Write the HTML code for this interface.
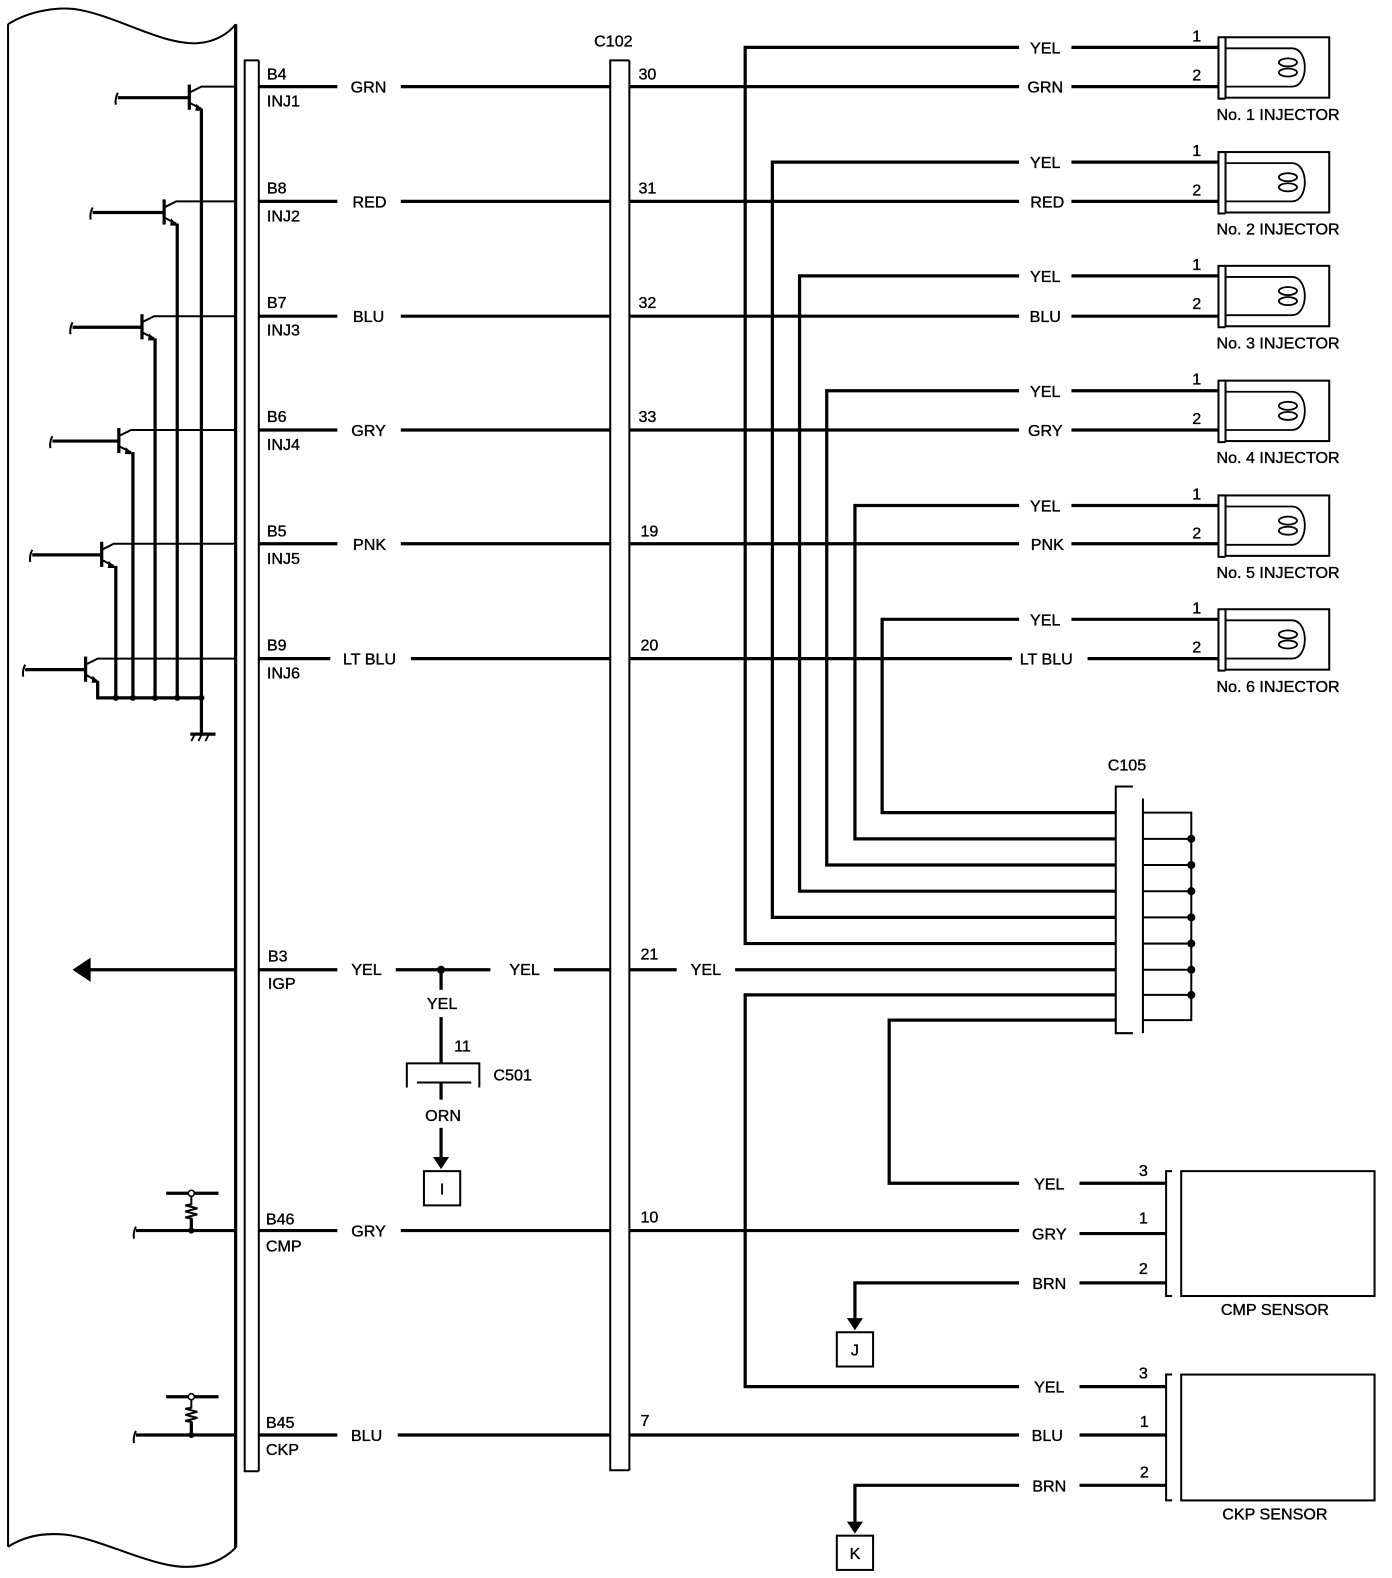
<!DOCTYPE html>
<html><head><meta charset="utf-8"><style>
html,body{margin:0;padding:0;background:#fff;}
svg{display:block;}
text{font-family:"Liberation Sans",Arial,sans-serif;font-size:16px;fill:#000;stroke:#000;stroke-width:0.35;}
.w{stroke:#000;stroke-width:3.2;fill:none;}
.t{stroke:#000;stroke-width:2;fill:none;}
.h{stroke:#000;stroke-width:1.8;fill:none;}
.c{text-anchor:middle;}
</style></head><body>
<svg width="1392" height="1578" viewBox="0 0 1392 1578" xmlns="http://www.w3.org/2000/svg">
<g transform="scale(1.007)">
<path class="t" d="M8,24 C30,10 60,6 80,10 C120,18 160,44 195,43 C215,42 228,32 234,24"/>
<line class="t" x1="8" y1="24" x2="8" y2="1536"/>
<line class="w" x1="234" y1="24" x2="234" y2="1537"/>
<path class="t" d="M8,1536 C25,1525 45,1522 65,1524 C100,1528 150,1556 185,1556 C210,1556 225,1546 234,1537"/>

<path class="t" d="M257,60 H243 V1461 H257"/>
<line class="t" x1="257" y1="60" x2="257" y2="1461"/>
<path class="t" d="M625,60 H606 V1460 H625"/>
<line class="t" x1="625" y1="60" x2="625" y2="1460"/>
<text x="590" y="46">C102</text>

<g>
<line class="w" x1="188" y1="84" x2="188" y2="109"/><line class="w" x1="117" y1="97" x2="188" y2="97"/><path class="t" d="M117,92 q-3,6 -2,12"/>
<path class="t" d="M188,92 L200,86 H234"/><path class="t" d="M188,102 L200,108"/><path d="M195,103 L202,110 L194,110Z"/>
<line class="w" x1="200" y1="108" x2="200" y2="693"/>
<line class="w" x1="163" y1="198" x2="163" y2="223"/><line class="w" x1="92" y1="211" x2="163" y2="211"/><path class="t" d="M92,206 q-3,6 -2,12"/>
<path class="t" d="M163,206 L175,200 H234"/><path class="t" d="M163,216 L175,222"/><path d="M170,217 L177,224 L169,224Z"/>
<line class="w" x1="176" y1="222" x2="176" y2="693"/>
<line class="w" x1="141" y1="312" x2="141" y2="337"/><line class="w" x1="72" y1="325" x2="141" y2="325"/><path class="t" d="M72,320 q-3,6 -2,12"/>
<path class="t" d="M141,320 L153,314 H234"/><path class="t" d="M141,330 L153,336"/><path d="M148,331 L155,338 L147,338Z"/>
<line class="w" x1="154" y1="336" x2="154" y2="693"/>
<line class="w" x1="118" y1="425" x2="118" y2="450"/><line class="w" x1="52" y1="438" x2="118" y2="438"/><path class="t" d="M52,433 q-3,6 -2,12"/>
<path class="t" d="M118,433 L130,427 H234"/><path class="t" d="M118,443 L130,449"/><path d="M125,444 L132,451 L124,451Z"/>
<line class="w" x1="132" y1="449" x2="132" y2="693"/>
<line class="w" x1="101" y1="538" x2="101" y2="563"/><line class="w" x1="32" y1="551" x2="101" y2="551"/><path class="t" d="M32,546 q-3,6 -2,12"/>
<path class="t" d="M101,546 L113,540 H234"/><path class="t" d="M101,556 L113,562"/><path d="M108,557 L115,564 L107,564Z"/>
<line class="w" x1="115" y1="562" x2="115" y2="693"/>
<line class="w" x1="85" y1="652" x2="85" y2="677"/><line class="w" x1="25" y1="665" x2="85" y2="665"/><path class="t" d="M25,660 q-3,6 -2,12"/>
<path class="t" d="M85,660 L97,654 H234"/><path class="t" d="M85,670 L96,676"/><path d="M92,671 L99,678 L91,678Z"/>
<path class="w" d="M97,676 V693 H202"/>
<circle cx="115" cy="693" r="3"/><circle cx="132" cy="693" r="3"/><circle cx="154" cy="693" r="3"/><circle cx="176" cy="693" r="3"/><circle cx="200" cy="693" r="3"/>
<line class="w" x1="200" y1="693" x2="200" y2="728"/>
<line class="w" x1="189" y1="729" x2="214" y2="729"/>
<path class="h" d="M193,730 l-3,6 M200,730 l-3,6 M207,730 l-3,6"/>
</g>

<g>
<text x="265" y="79">B4</text><text x="265" y="106">INJ1</text>
<line class="w" x1="257" y1="86" x2="335" y2="86"/><text class="c" x="366" y="92">GRN</text><line class="w" x1="398" y1="86" x2="606" y2="86"/>
<text x="265" y="192">B8</text><text x="265" y="220">INJ2</text>
<line class="w" x1="257" y1="200" x2="335" y2="200"/><text class="c" x="367" y="206">RED</text><line class="w" x1="398" y1="200" x2="606" y2="200"/>
<text x="265" y="306">B7</text><text x="265" y="333">INJ3</text>
<line class="w" x1="257" y1="314" x2="335" y2="314"/><text class="c" x="366" y="320">BLU</text><line class="w" x1="398" y1="314" x2="606" y2="314"/>
<text x="265" y="419">B6</text><text x="265" y="447">INJ4</text>
<line class="w" x1="257" y1="427" x2="335" y2="427"/><text class="c" x="366" y="433">GRY</text><line class="w" x1="398" y1="427" x2="606" y2="427"/>
<text x="265" y="533">B5</text><text x="265" y="560">INJ5</text>
<line class="w" x1="257" y1="540" x2="335" y2="540"/><text class="c" x="367" y="546">PNK</text><line class="w" x1="398" y1="540" x2="606" y2="540"/>
<text x="265" y="646">B9</text><text x="265" y="674">INJ6</text>
<line class="w" x1="257" y1="654" x2="328" y2="654"/><text class="c" x="367" y="660">LT BLU</text><line class="w" x1="408" y1="654" x2="606" y2="654"/>
</g>

<g>
<text x="634" y="79">30</text><text x="634" y="192">31</text><text x="634" y="306">32</text><text x="634" y="419">33</text><text x="636" y="533">19</text><text x="636" y="646">20</text>
<line class="w" x1="625" y1="86" x2="1012" y2="86"/><text class="c" x="1038" y="92">GRN</text><line class="w" x1="1064" y1="86" x2="1210" y2="86"/>
<line class="w" x1="625" y1="200" x2="1012" y2="200"/><text class="c" x="1040" y="206">RED</text><line class="w" x1="1064" y1="200" x2="1210" y2="200"/>
<line class="w" x1="625" y1="314" x2="1012" y2="314"/><text class="c" x="1038" y="320">BLU</text><line class="w" x1="1064" y1="314" x2="1210" y2="314"/>
<line class="w" x1="625" y1="427" x2="1012" y2="427"/><text class="c" x="1038" y="433">GRY</text><line class="w" x1="1064" y1="427" x2="1210" y2="427"/>
<line class="w" x1="625" y1="540" x2="1012" y2="540"/><text class="c" x="1040" y="546">PNK</text><line class="w" x1="1064" y1="540" x2="1210" y2="540"/>
<line class="w" x1="625" y1="654" x2="1005" y2="654"/><text class="c" x="1039" y="660">LT BLU</text><line class="w" x1="1080" y1="654" x2="1210" y2="654"/>
</g>

<g>
<path class="w" d="M1012,47 H740 V937 H1108"/>
<path class="w" d="M1012,161 H767 V911 H1108"/>
<path class="w" d="M1012,274 H794 V885 H1108"/>
<path class="w" d="M1012,388 H821 V859 H1108"/>
<path class="w" d="M1012,502 H849 V833 H1108"/>
<path class="w" d="M1012,615 H876 V807 H1108"/>
<text class="c" x="1038" y="53">YEL</text><line class="w" x1="1064" y1="47" x2="1210" y2="47"/>
<text class="c" x="1038" y="167">YEL</text><line class="w" x1="1064" y1="161" x2="1210" y2="161"/>
<text class="c" x="1038" y="280">YEL</text><line class="w" x1="1064" y1="274" x2="1210" y2="274"/>
<text class="c" x="1038" y="394">YEL</text><line class="w" x1="1064" y1="388" x2="1210" y2="388"/>
<text class="c" x="1038" y="508">YEL</text><line class="w" x1="1064" y1="502" x2="1210" y2="502"/>
<text class="c" x="1038" y="621">YEL</text><line class="w" x1="1064" y1="615" x2="1210" y2="615"/>
<circle cx="740" cy="200" r="2.5"/><circle cx="767" cy="200" r="2.5"/>
</g>

<g>
<path class="t" d="M1217,37 H1210 V98 H1217"/><rect class="t" x="1217" y="37" width="103" height="60"/>
<path class="h" d="M1217,48 H1283 C1300,48 1300,86 1283,86 H1217"/>
<ellipse class="h" cx="1279" cy="62" rx="9" ry="4"/><ellipse class="h" cx="1279" cy="72" rx="9" ry="4"/>
<text x="1184" y="41">1</text><text x="1184" y="80">2</text>
<text x="1208" y="119">No. 1 INJECTOR</text>
</g>
<g transform="translate(0,114)">
<path class="t" d="M1217,37 H1210 V98 H1217"/><rect class="t" x="1217" y="37" width="103" height="60"/>
<path class="h" d="M1217,48 H1283 C1300,48 1300,86 1283,86 H1217"/>
<ellipse class="h" cx="1279" cy="62" rx="9" ry="4"/><ellipse class="h" cx="1279" cy="72" rx="9" ry="4"/>
<text x="1184" y="41">1</text><text x="1184" y="80">2</text><text x="1208" y="119">No. 2 INJECTOR</text>
</g>
<g transform="translate(0,227)">
<path class="t" d="M1217,37 H1210 V98 H1217"/><rect class="t" x="1217" y="37" width="103" height="60"/>
<path class="h" d="M1217,48 H1283 C1300,48 1300,86 1283,86 H1217"/>
<ellipse class="h" cx="1279" cy="62" rx="9" ry="4"/><ellipse class="h" cx="1279" cy="72" rx="9" ry="4"/>
<text x="1184" y="41">1</text><text x="1184" y="80">2</text><text x="1208" y="119">No. 3 INJECTOR</text>
</g>
<g transform="translate(0,341)">
<path class="t" d="M1217,37 H1210 V98 H1217"/><rect class="t" x="1217" y="37" width="103" height="60"/>
<path class="h" d="M1217,48 H1283 C1300,48 1300,86 1283,86 H1217"/>
<ellipse class="h" cx="1279" cy="62" rx="9" ry="4"/><ellipse class="h" cx="1279" cy="72" rx="9" ry="4"/>
<text x="1184" y="41">1</text><text x="1184" y="80">2</text><text x="1208" y="119">No. 4 INJECTOR</text>
</g>
<g transform="translate(0,455)">
<path class="t" d="M1217,37 H1210 V98 H1217"/><rect class="t" x="1217" y="37" width="103" height="60"/>
<path class="h" d="M1217,48 H1283 C1300,48 1300,86 1283,86 H1217"/>
<ellipse class="h" cx="1279" cy="62" rx="9" ry="4"/><ellipse class="h" cx="1279" cy="72" rx="9" ry="4"/>
<text x="1184" y="41">1</text><text x="1184" y="80">2</text><text x="1208" y="119">No. 5 INJECTOR</text>
</g>
<g transform="translate(0,568)">
<path class="t" d="M1217,37 H1210 V98 H1217"/><rect class="t" x="1217" y="37" width="103" height="60"/>
<path class="h" d="M1217,48 H1283 C1300,48 1300,86 1283,86 H1217"/>
<ellipse class="h" cx="1279" cy="62" rx="9" ry="4"/><ellipse class="h" cx="1279" cy="72" rx="9" ry="4"/>
<text x="1184" y="41">1</text><text x="1184" y="80">2</text><text x="1208" y="119">No. 6 INJECTOR</text>
</g>

<g>
<text x="1100" y="765">C105</text>
<path class="t" d="M1125,781 H1108 V1026 H1125"/>
<line class="t" x1="1135" y1="793" x2="1135" y2="1026"/>
<path class="t" d="M1135,807 H1183 V1013 H1135"/>
<line class="t" x1="1135" y1="833" x2="1183" y2="833"/><line class="t" x1="1135" y1="859" x2="1183" y2="859"/>
<line class="t" x1="1135" y1="885" x2="1183" y2="885"/><line class="t" x1="1135" y1="911" x2="1183" y2="911"/>
<line class="t" x1="1135" y1="937" x2="1183" y2="937"/><line class="t" x1="1135" y1="963" x2="1183" y2="963"/>
<line class="t" x1="1135" y1="988" x2="1183" y2="988"/>
<circle cx="1183" cy="833" r="4"/><circle cx="1183" cy="859" r="4"/><circle cx="1183" cy="885" r="4"/><circle cx="1183" cy="911" r="4"/><circle cx="1183" cy="937" r="4"/><circle cx="1183" cy="963" r="4"/><circle cx="1183" cy="988" r="4"/>
</g>

<g>
<path d="M72,963 L90,951 L90,975Z"/><line class="w" x1="88" y1="963" x2="234" y2="963"/>
<text x="266" y="955">B3</text><text x="266" y="982">IGP</text>
<line class="w" x1="257" y1="963" x2="335" y2="963"/><text class="c" x="364" y="968">YEL</text>
<line class="w" x1="393" y1="963" x2="487" y2="963"/><circle cx="438" cy="963" r="4"/>
<text class="c" x="521" y="968">YEL</text><line class="w" x1="550" y1="963" x2="606" y2="963"/>
<text x="636" y="953">21</text><line class="w" x1="625" y1="963" x2="672" y2="963"/><text class="c" x="701" y="968">YEL</text><line class="w" x1="730" y1="963" x2="1108" y2="963"/>
<line class="w" x1="438" y1="963" x2="438" y2="983"/><text class="c" x="439" y="1002">YEL</text>
<line class="w" x1="438" y1="1010" x2="438" y2="1056"/><text x="451" y="1044">11</text>
<path class="t" d="M404,1080 V1056 H476 V1080"/><line class="t" x1="414" y1="1075" x2="468" y2="1075"/>
<text x="490" y="1073">C501</text>
<line class="w" x1="438" y1="1075" x2="438" y2="1092"/><text class="c" x="440" y="1113">ORN</text>
<line class="w" x1="438" y1="1120" x2="438" y2="1150"/><path d="M430,1149 L446,1149 L438,1161Z"/>
<rect class="t" x="421" y="1163" width="36" height="34"/><text class="c" x="439" y="1186">I</text>
</g>

<path class="w" d="M1108,988 H740 V1377 H1012"/>
<path class="w" d="M1108,1013 H883 V1175 H1012"/>

<g>
<line class="w" x1="165" y1="1185" x2="217" y2="1185"/><circle cx="190" cy="1185" r="3" fill="#fff" stroke="#000" stroke-width="1.5"/>
<path class="t" d="M190,1188 V1196 l-6,1 l12,3 l-12,3 l12,3 l-12,3 l6,1 V1222"/>
<line class="w" x1="190" y1="1210" x2="190" y2="1222"/>
<line class="w" x1="135" y1="1222" x2="234" y2="1222"/><path class="t" d="M135,1218 q-3,6 -2,12"/><circle cx="190" cy="1222" r="3"/>
<text x="264" y="1216">B46</text><text x="264" y="1243">CMP</text>
<line class="w" x1="257" y1="1222" x2="335" y2="1222"/><text class="c" x="366" y="1228">GRY</text><line class="w" x1="398" y1="1222" x2="606" y2="1222"/>
<text x="636" y="1214">10</text><line class="w" x1="625" y1="1222" x2="1012" y2="1222"/>
<text class="c" x="1042" y="1181">YEL</text><line class="w" x1="1072" y1="1175" x2="1158" y2="1175"/>
<text class="c" x="1042" y="1231">GRY</text><line class="w" x1="1072" y1="1225" x2="1158" y2="1225"/>
<text class="c" x="1042" y="1280">BRN</text><line class="w" x1="1072" y1="1274" x2="1158" y2="1274"/>
<path class="w" d="M1012,1274 H849 V1310"/><path d="M841,1309 L857,1309 L849,1321Z"/>
<rect class="t" x="831" y="1323" width="36" height="34"/><text class="c" x="849" y="1346">J</text>
<text x="1131" y="1168">3</text><text x="1131" y="1215">1</text><text x="1131" y="1265">2</text>
<path class="t" d="M1164,1163 H1158 V1287 H1164"/><rect class="t" x="1173" y="1163" width="192" height="124"/>
<text class="c" x="1266" y="1306">CMP SENSOR</text>
</g>

<g>
<line class="w" x1="165" y1="1387" x2="217" y2="1387"/><circle cx="190" cy="1387" r="3" fill="#fff" stroke="#000" stroke-width="1.5"/>
<path class="t" d="M190,1390 V1398 l-6,1 l12,3 l-12,3 l12,3 l-12,3 l6,1 V1425"/>
<line class="w" x1="190" y1="1412" x2="190" y2="1425"/>
<line class="w" x1="135" y1="1425" x2="234" y2="1425"/><path class="t" d="M135,1421 q-3,6 -2,12"/><circle cx="190" cy="1425" r="3"/>
<text x="264" y="1418">B45</text><text x="264" y="1445">CKP</text>
<line class="w" x1="257" y1="1425" x2="335" y2="1425"/><text class="c" x="364" y="1431">BLU</text><line class="w" x1="395" y1="1425" x2="606" y2="1425"/>
<text x="636" y="1416">7</text><line class="w" x1="625" y1="1425" x2="1012" y2="1425"/>
<text class="c" x="1042" y="1383">YEL</text><line class="w" x1="1072" y1="1377" x2="1158" y2="1377"/>
<text class="c" x="1040" y="1431">BLU</text><line class="w" x1="1072" y1="1425" x2="1158" y2="1425"/>
<text class="c" x="1042" y="1481">BRN</text><line class="w" x1="1072" y1="1475" x2="1158" y2="1475"/>
<path class="w" d="M1012,1475 H849 V1512"/><path d="M841,1511 L857,1511 L849,1523Z"/>
<rect class="t" x="831" y="1525" width="36" height="34"/><text class="c" x="849" y="1548">K</text>
<text x="1131" y="1369">3</text><text x="1132" y="1417">1</text><text x="1132" y="1467">2</text>
<path class="t" d="M1164,1365 H1158 V1490 H1164"/><rect class="t" x="1173" y="1365" width="192" height="125"/>
<text class="c" x="1266" y="1509">CKP SENSOR</text>
</g>
</g>
</svg>
</body></html>
